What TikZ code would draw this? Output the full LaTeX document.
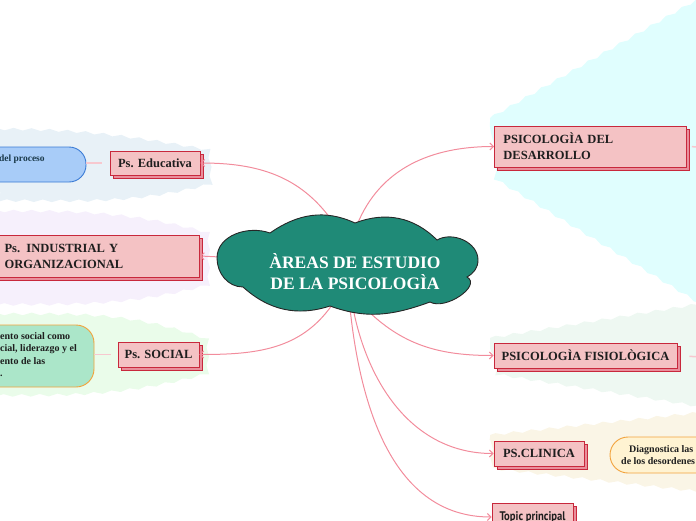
\documentclass[tikz,border=0pt]{standalone}
\usepackage{fontspec}
\usepackage{graphicx}
\setmainfont{Liberation Serif}
\newfontfamily\ptsans{PT Sans}
\usetikzlibrary{arrows.meta,shadows,decorations.pathmorphing}
\definecolor{boxfill}{HTML}{F4C2C4}
\definecolor{boxborder}{HTML}{C8283C}
\definecolor{boxshadow}{HTML}{E98E9B}
\definecolor{linkcol}{HTML}{F28C9C}
\definecolor{linkfaint}{HTML}{F7C8CF}
\definecolor{cloudfill}{HTML}{1F8A77}
\definecolor{regblue}{HTML}{E8F1F7}
\definecolor{reglav}{HTML}{F6F0FC}
\definecolor{reggreen}{HTML}{EAFCEA}
\definecolor{regcyan}{HTML}{E0FEFE}
\definecolor{regmint}{HTML}{EEF8F2}
\definecolor{regcream}{HTML}{FAF5E6}
\definecolor{bubblue}{HTML}{A8CCF8}
\definecolor{bubblueb}{HTML}{3A7BD5}
\definecolor{bubgreen}{HTML}{ABE6C9}
\definecolor{buborange}{HTML}{F2A33C}
\definecolor{bubcream}{HTML}{FFF3D2}
\definecolor{txtdark}{HTML}{1E1E1E}
\definecolor{txtteal}{HTML}{1B3A4B}
\tikzset{
  topicbox/.style={draw=boxborder, fill=boxfill, line width=0.9pt, text=txtdark,
    font=\fontsize{12.5}{16}\selectfont\bfseries, inner sep=0pt,
    copy shadow={shadow xshift=3pt, shadow yshift=-3pt, fill=boxshadow, draw=boxborder, line width=0.9pt}},
  link/.style={draw=linkcol, line width=1pt, -{Straight Barb[length=3.5pt,width=7pt]}},
  faint/.style={draw=linkfaint, line width=1.5pt},
  region/.style={decorate, decoration={snake, amplitude=1.3pt, segment length=18pt}},
  bubble/.style={line width=0.9pt, rounded corners=17pt},
  bubtext/.style={font=\fontsize{10}{12.5}\selectfont\bfseries, inner sep=0pt, align=left}
}
\begin{document}
\begin{tikzpicture}[x=1pt,y=1pt]
\useasboundingbox (0,0) rectangle (696,-520);
\clip (0,0) rectangle (696,-520);
% background regions
\fill[regblue, region] (-10,-129) to[out=0,in=170] (205,-150) -- (207,-183) to[out=195,in=0] (-10,-201) -- cycle;
\fill[reglav, region] (-10,-211) to[out=0,in=165] (205,-233) -- (205,-283) to[out=195,in=0] (-10,-304) -- cycle;
\fill[reggreen, region] (-10,-314) to[out=0,in=160] (205,-340) -- (205,-376) to[out=195,in=0] (-10,-398) -- cycle;
\fill[regcyan, region] (490,-118) -- (705,5) -- (705,-303) -- (490,-172) -- cycle;
\fill[regmint, region] (490,-338) -- (705,-303) -- (705,-408) -- (490,-374) -- cycle;
\fill[regcream, region] (490,-435) -- (705,-412) -- (705,-496) -- (490,-472) -- cycle;

% cloud anchor coordinates
\coordinate (cEdu) at (333,-222);
\coordinate (cInd) at (220,-257);
\coordinate (cSoc) at (332,-305);
\coordinate (cDes) at (357,-225);
\coordinate (cFis) at (365,-308);
\coordinate (cCli) at (353,-308);
\coordinate (cTop) at (350,-308);
\coordinate (desOut) at (700,-147);
\coordinate (fisOut) at (700,-357);

% topic boxes
\node[topicbox, minimum width=90pt, minimum height=24pt] (edu) at (155,-163) {Ps. Educativa};
\node[topicbox, minimum height=42pt, text width=183pt, align=left, inner xsep=12pt, anchor=east] (ind) at (200,-256) {Ps. INDUSTRIAL Y\\ORGANIZACIONAL};
\node[topicbox, minimum width=81pt, minimum height=25pt] (soc) at (158.5,-354.5) {Ps. SOCIAL};
\node[topicbox, minimum height=41pt, text width=174pt, align=left, inner xsep=9pt, anchor=west] (des) at (494,-146.5) {PSICOLOGÌA DEL\\DESARROLLO};
\node[topicbox, minimum width=183pt, minimum height=25pt] (fis) at (585.5,-355.5) {PSICOLOGÌA FISIOLÒGICA};
\node[topicbox, minimum width=90pt, minimum height=25pt] (cli) at (539,-453.5) {PS.CLINICA};
\node[topicbox, minimum width=81pt, minimum height=28pt, font=\ptsans\fontsize{12.5}{14}\selectfont\bfseries] (top) at (532.5,-517) {\scalebox{0.85}[1]{Topic principal}};

% bubbles
\node[bubble, draw=bubblueb, fill=bubblue, minimum width=110pt, minimum height=35pt] (blue) at (31,-164.5) {};
\node[bubtext, text=txtteal, font=\fontsize{9.5}{12}\selectfont\bfseries, anchor=base west] (bluetxt) at (-1,-161) {del proceso};
\node[bubble, rounded corners=18pt, draw=buborange, fill=bubgreen, minimum width=124pt, minimum height=62pt] (green) at (32,-356) {};
\node[bubtext, text=txtdark, anchor=north west] (greentxt) at (0,-332) {ento social como\\cial, liderazgo y el\\ento de las\\.};
\node[bubble, rounded corners=18pt, draw=buborange, fill=bubcream, minimum width=110pt, minimum height=36pt] (cream) at (665,-455) {};
\node[bubtext, text=txtdark, anchor=north west] (creamtxt) at (621,-445) {\hspace*{8pt}Diagnostica las\\de los desordenes};

% faint connectors
\draw[faint, shorten <=8pt] (edu.west) -- (blue.east |- edu.west);
\draw[faint, shorten <=7pt] (soc.west) -- (green.east |- soc.west);
\draw[faint, shorten <=5pt] (des.east) -- (desOut);
\draw[faint, shorten <=12pt] (fis.east) -- (fisOut);

% links
\draw[link] (cEdu) to[out=125,in=0] (edu.east);
\draw[link] (cInd) -- (ind.east);
\draw[link] (cSoc) to[out=-125,in=0] (soc.east);
\draw[link] (cDes) to[out=68,in=180] (des.west);
\draw[link] (cFis) to[out=-45,in=180] (fis.west);
\draw[link] (cCli) to[out=-79,in=180] (cli.west);
\draw[link] (cTop) to[out=-84,in=180] (top.west);

% cloud
\path[draw=black!85, line width=0.9pt, fill=cloudfill]
  (217,-258) to[out=90,in=160] (270,-233)
  to[out=35,in=155] (355,-223)
  to[out=21,in=135] (437,-240)
  to[out=30,in=90] (478,-260)
  to[out=-90,in=30] (467,-277)
  to[out=-30,in=-30] (430,-302)
  to[out=-160,in=-20] (330,-306)
  to[out=-162,in=-42] (243,-287)
  to[out=180,in=-90] (217,-258) -- cycle;
\node[text=white, font=\fontsize{17.5}{21}\selectfont\bfseries, align=center, inner sep=0pt] (root) at (355,-272) {ÀREAS DE ESTUDIO\\DE LA PSICOLOGÌA};
\end{tikzpicture}
\end{document}
